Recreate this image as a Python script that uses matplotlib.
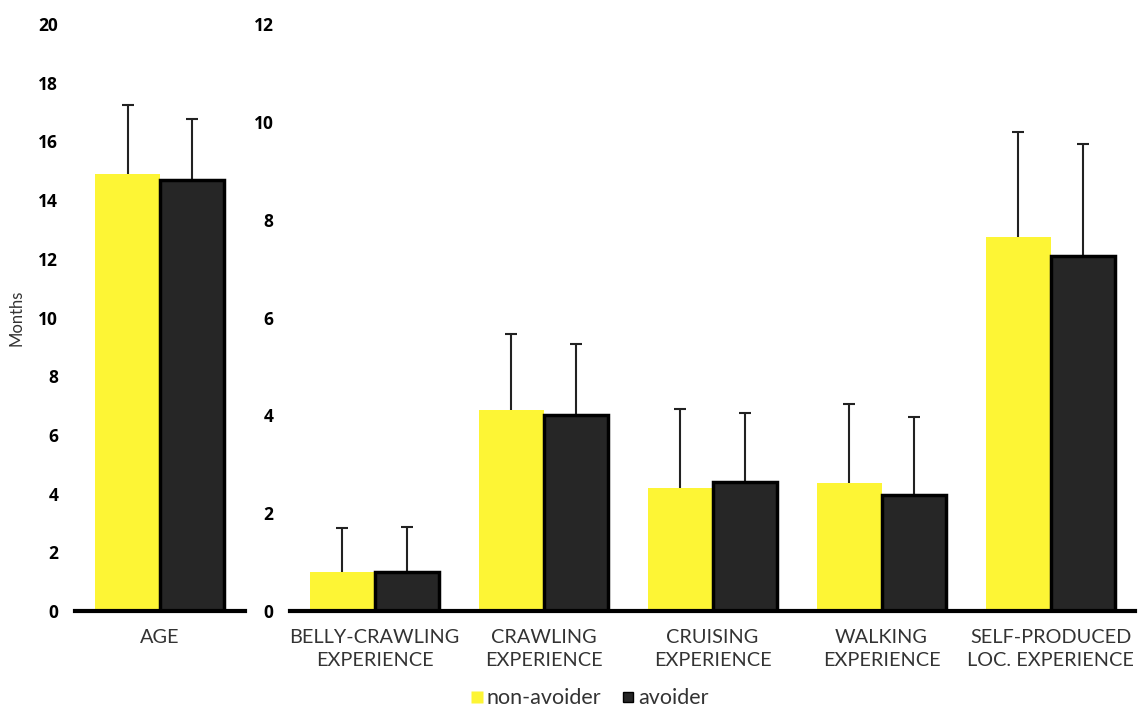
import matplotlib.pyplot as plt
import numpy as np
from matplotlib.lines import Line2D

plt.rcParams['font.family'] = ['Lato', 'DejaVu Sans']

# Age panel (left scale, months)
age_label = ["AGE"]
age_non = [14.88]
age_non_sd = [2.35]
age_avo = [14.70]
age_avo_sd = [2.06]

# Locomotor experience panel (right scale, months)
exp_labels = ["BELLY-CRAWLING\nEXPERIENCE", "CRAWLING\nEXPERIENCE", "CRUISING\nEXPERIENCE",
              "WALKING\nEXPERIENCE", "SELF-PRODUCED\nLOC. EXPERIENCE"]
exp_non = [0.80, 4.11, 2.52, 2.62, 7.65]
exp_non_sd = [0.90, 1.55, 1.61, 1.61, 2.15]
exp_avo = [0.80, 4.01, 2.64, 2.37, 7.26]
exp_avo_sd = [0.92, 1.45, 1.41, 1.60, 2.29]

series_names = ["non-avoider", "avoider"]
yellow = "#FDF535"
dark = "#262626"

fig = plt.figure(figsize=(11.39, 7.08), dpi=100)
ax1 = fig.add_axes([0.0658, 0.137, 0.149, 0.829])
ax2 = fig.add_axes([0.2546, 0.137, 0.742, 0.829])

w = 0.38


def upper_errorbar(ax, x, y, sd):
    _, caps, _ = ax.errorbar(x, y, yerr=[np.zeros(len(y)), sd], fmt="none", ecolor="#222222",
                             elinewidth=1.5, capsize=4.5, capthick=1.5, zorder=1)
    # keep only the upper caps
    caps[0].set_visible(False)


def draw(ax, labels, non, non_sd, avo, avo_sd, ymax, ystep):
    x = np.arange(len(labels))
    ax.bar(x - w / 2, non, w, color=yellow, edgecolor="none", zorder=2)
    ax.bar(x + w / 2, avo, w, color=dark, edgecolor="black", linewidth=2.5, zorder=2)
    upper_errorbar(ax, x - w / 2, non, non_sd)
    upper_errorbar(ax, x + w / 2, avo, avo_sd)
    ax.set_xlim(-0.5, len(labels) - 0.5)
    ax.set_ylim(0, ymax)
    ax.set_yticks(np.arange(0, ymax + 0.01, ystep))
    ax.set_xticks(x)
    ax.set_xticklabels(labels, fontsize=14.3, color="#333333", linespacing=1.45)
    for t in ax.get_yticklabels():
        t.set_fontweight("bold")
        t.set_fontsize(12.5)
        t.set_family(["Open Sans", "DejaVu Sans"])
    for s in ["top", "right", "left"]:
        ax.spines[s].set_visible(False)
    ax.spines["bottom"].set_linewidth(3)
    ax.spines["bottom"].set_zorder(3)
    ax.tick_params(axis="both", length=0)
    ax.tick_params(axis="y", pad=12)
    ax.tick_params(axis="x", pad=13)


draw(ax1, age_label, age_non, age_non_sd, age_avo, age_avo_sd, 20, 2)
draw(ax2, exp_labels, exp_non, exp_non_sd, exp_avo, exp_avo_sd, 12, 2)
ax1.set_ylabel("Months", fontsize=12, color="#333333")
ax1.yaxis.set_label_coords(-0.30, 0.5)

handles = [Line2D([], [], marker="s", linestyle="none", markersize=9, markerfacecolor=yellow,
                  markeredgecolor="none"),
           Line2D([], [], marker="s", linestyle="none", markersize=7.5, markerfacecolor=dark,
                  markeredgecolor="black")]
fig.legend(handles, series_names, loc="center", bbox_to_anchor=(0.517, 0.014), ncol=2,
           frameon=False, fontsize=15.5, handletextpad=0.1, columnspacing=0.9,
           handlelength=0.7, labelcolor="#333333")

fig.savefig("out.png", dpi=100)
